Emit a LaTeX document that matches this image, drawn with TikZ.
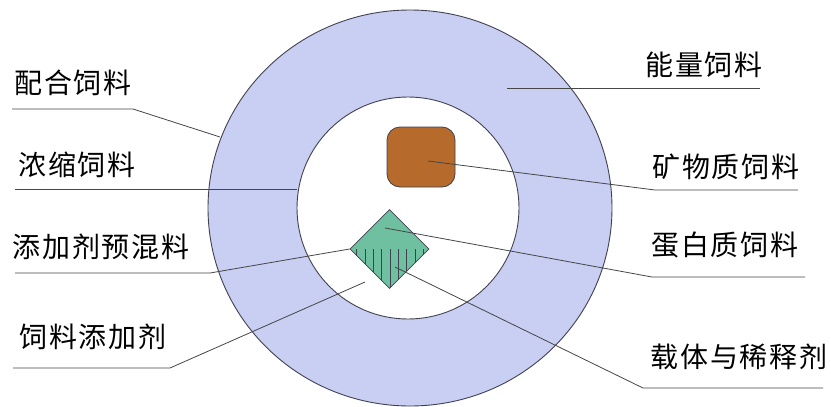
\documentclass[tikz,border=0pt]{standalone}
\usepackage{fontspec}
\newfontfamily\cjk[LetterSpace=6]{Noto Sans CJK SC}
\usetikzlibrary{shapes.geometric}
\definecolor{ringblue}{RGB}{200,207,242}
\definecolor{edgegray}{RGB}{65,65,80}
\definecolor{leadgray}{RGB}{70,70,70}
\definecolor{mineralbrown}{RGB}{182,106,44}
\definecolor{proteingreen}{RGB}{110,192,160}
\tikzset{
  lbl/.style={font=\cjk\fontsize{28}{28}\selectfont, inner sep=0pt, anchor=center},
  lead/.style={draw=leadgray, line width=0.8pt},
  rim/.style={draw=edgegray, line width=0.9pt}
}
\begin{document}
\begin{tikzpicture}[x=1pt,y=-1pt]
\useasboundingbox (0,0) rectangle (831,407);
\fill[white] (0,0) rectangle (831,407);
% rings
\node[rim, fill=ringblue, ellipse, minimum width=404pt, minimum height=396pt, inner sep=0pt] (outer) at (410,208) {};
\node[rim, fill=white, circle, minimum size=222pt, inner sep=0pt] (inner) at (408,208) {};
% mineral box
\node[draw=edgegray, line width=0.8pt, fill=mineralbrown, rounded corners=13pt, minimum width=68pt, minimum height=60pt, inner sep=0pt] (mineral) at (421,157) {};
% diamond
\node[draw=edgegray, line width=0.8pt, fill=proteingreen, diamond, minimum width=79pt, minimum height=79pt, inner sep=0pt] (protein) at (389.5,249) {};
\foreach \dx in {-32.7,-24.4,-16.1,-7.8,0.5,8.8,17.1,25.4,33.7}{
  \pgfmathsetmacro{\yb}{249+39.5-abs(\dx)}
  \draw[edgegray, line width=0.8pt] (389.5+\dx,249) -- (389.5+\dx,\yb);
}
% labels
\node[lbl] (t1) at (73,83) {配合饲料};
\node[lbl] (t2) at (77,165) {浓缩饲料};
\node[lbl] (t3) at (101,247) {添加剂预混料};
\node[lbl] (t4) at (93,337) {饲料添加剂};
\node[lbl] (t5) at (704,65) {能量饲料};
\node[lbl] (t6) at (726,167) {矿物质饲料};
\node[lbl] (t7) at (725,245) {蛋白质饲料};
\node[lbl] (t8) at (739,357) {载体与稀释剂};
% leader coordinates
\coordinate (a1) at (12,109); \coordinate (b1) at (133,109); \coordinate (c1) at (220,137);
\coordinate (a2) at (15,189); \coordinate (c2) at (297,189);
\coordinate (a3) at (15,273); \coordinate (b3) at (210,273);
\coordinate (a4) at (13,368); \coordinate (b4) at (170,368); \coordinate (c4) at (365,282);
\coordinate (c5) at (507,88); \coordinate (a5) at (760,88);
\coordinate (b6) at (655,190); \coordinate (a6) at (798,190);
\coordinate (c7) at (385,228); \coordinate (b7) at (652,277); \coordinate (a7) at (805,277);
\coordinate (c8) at (395,267); \coordinate (b8) at (643,388); \coordinate (a8) at (823,388);
% leaders
\draw[lead] (a1) -- (b1) -- (c1);
\draw[lead] (a2) -- (c2);
\draw[lead] (a3) -- (b3) -- (protein.west);
\draw[lead] (a4) -- (b4) -- (c4);
\draw[lead] (c5) -- (a5);
\draw[lead] ([xshift=7pt,yshift=-4pt]mineral.center) -- (b6) -- (a6);
\draw[lead] (c7) -- (b7) -- (a7);
\draw[lead] (c8) -- (b8) -- (a8);
\end{tikzpicture}
\end{document}
